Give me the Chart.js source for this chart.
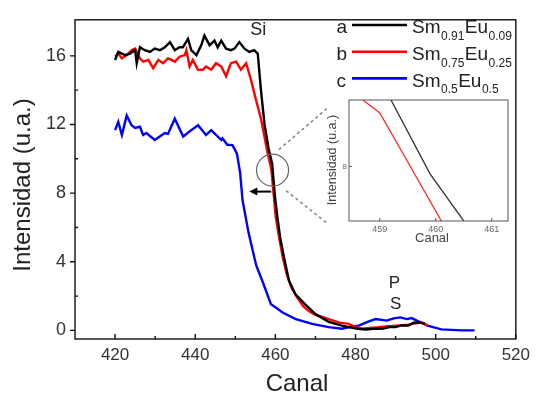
<!DOCTYPE html>
<html>
<head>
<meta charset="utf-8">
<script src="https://cdn.jsdelivr.net/npm/chart.js@4.4.1/dist/chart.umd.min.js"></script>
<style>
  html, body { margin: 0; padding: 0; background: #fff; }
  #wrap { position: relative; width: 536px; height: 396px; }
  #main { position: absolute; left: 0; top: 0; }
  #inset { position: absolute; left: 310px; top: 90px; }
</style>
</head>
<body>
<div id="wrap">
  <canvas id="main" width="536" height="396"></canvas>
  <canvas id="inset" width="210" height="165"></canvas>
</div>
<script>
// a: Sm0.91Eu0.09 (black)
const canalA = [420, 420.8, 422.5, 423.7, 425, 425.4, 426.2, 427.4, 428.7, 429.9, 431.2, 432.4, 433.7, 434.9, 436.1, 436.9, 438.2, 439, 440.3, 441.5, 442.3, 443.6, 444.8, 445.6, 446.5, 447.7, 448.9, 449.8, 451, 452.3, 453.5, 454.7, 455.6, 456.4, 457.3, 458.3, 459.2, 459.9, 460.5, 461.2, 462.2, 463.4, 465, 467.5, 470, 473.3, 476.6, 478.3, 480.5, 482.5, 484.5, 486.6, 488.5, 489.9, 491.5, 493.2, 494.5, 495.7, 497.3];
const intA = [15.76, 16.23, 16.04, 16.13, 16.33, 15.57, 16.5, 16.33, 16.23, 16.42, 16.33, 16.5, 16.8, 16.33, 16.5, 16.5, 16.99, 16.33, 16.04, 16.61, 17.18, 16.61, 16.89, 16.5, 16.89, 16.42, 16.33, 16.42, 16.8, 16.42, 16.23, 16.33, 16.13, 14.0, 12.0, 10.6, 9.7, 7.8, 6.6, 5.4, 4.2, 2.9, 2.1, 1.5, 0.95, 0.5, 0.28, 0.19, 0.1, 0.05, 0.1, 0.1, 0.2, 0.19, 0.3, 0.28, 0.45, 0.47, 0.4];

// b: Sm0.75Eu0.25 (red)
const canalB = [420, 420.8, 421.7, 422.9, 424.1, 425, 426.2, 427, 428.3, 429.5, 430.8, 432, 433.2, 434.1, 434.9, 436.1, 437.4, 437.8, 438.6, 439.4, 440.7, 441.9, 442.7, 444, 445.2, 446.5, 447.7, 448.9, 450.2, 451.4, 452.7, 453.9, 455.1, 456.4, 457.2, 458.0, 458.7, 459, 460.1, 460.8, 461.8, 462.8, 464, 465.5, 467, 468.5, 470, 471.5, 473.3, 476, 478.3, 480, 481.6, 483.5, 485.8, 488, 490, 492, 493.2, 494.5, 496.5, 498];
const intB = [15.95, 16.13, 15.85, 16.04, 16.33, 16.42, 15.85, 15.66, 15.76, 15.28, 15.76, 15.57, 15.85, 15.76, 15.66, 15.95, 16.04, 16.33, 15.38, 15.76, 15.19, 15.19, 15.38, 15.19, 15.57, 15.38, 14.81, 15.57, 15.66, 15.19, 15.57, 14.62, 13.48, 12.34, 11.39, 10.4, 9.7, 9.37, 6.6, 5.6, 4.3, 3.3, 2.5, 1.9, 1.4, 1.1, 0.9, 0.8, 0.66, 0.45, 0.38, 0.2, 0.1, 0.15, 0.19, 0.25, 0.28, 0.3, 0.34, 0.4, 0.47, 0.28];

// c: Sm0.5Eu0.5 (blue)
const canalC = [420, 420.8, 421.7, 422.9, 424.1, 425, 426.2, 427, 427.8, 429.9, 432.4, 433.2, 434.9, 437, 438.6, 440.7, 442.7, 444, 445.6, 446.5, 446.8, 448, 449.3, 450.4, 451.2, 451.8, 453.3, 455.2, 456.8, 458.9, 460.1, 461.8, 465.1, 469.2, 473.3, 476.6, 478.5, 480.8, 483, 485, 487.8, 489.5, 491.2, 492.8, 494, 495.7, 498, 501.4, 506.4, 509.7];
const intC = [11.67, 12.15, 11.39, 12.53, 11.96, 11.8, 11.87, 11.39, 11.5, 11.1, 11.5, 11.45, 12.34, 11.3, 11.6, 11.96, 11.39, 11.67, 11.3, 11.1, 11.2, 10.82, 10.8, 10.3, 9.2, 7.6, 5.7, 3.8, 2.85, 1.52, 1.33, 1.04, 0.66, 0.38, 0.19, 0.1, 0.2, 0.28, 0.5, 0.66, 0.57, 0.7, 0.76, 0.66, 0.72, 0.53, 0.28, 0.06, 0, 0];

const seriesLetters = ['a', 'b', 'c'];
const seriesFormulas = [
  [['Sm', '0.91'], ['Eu', '0.09']],
  [['Sm', '0.75'], ['Eu', '0.25']],
  [['Sm', '0.5'], ['Eu', '0.5']]
];
const seriesColors = ['#000000', '#ff0000', '#0000ff'];

const xTickLabels = [420, 440, 460, 480, 500, 520];
const xMinorTicks = [430, 450, 470, 490, 510];
const yTickLabels = [0, 4, 8, 12, 16];
const yMinorTicks = [2, 6, 10, 14];
const insetXTicks = [459, 460, 461];
const insetYTicks = [8];

const FONT = '"Liberation Sans", Arial, Helvetica, sans-serif';

const toPoints = (xs, ys) => xs.map((x, i) => ({ x: x, y: ys[i] }));
const fixedTicks = list => scale => { scale.ticks = list.map(v => ({ value: v })); };

// frame + tick marks (inside / outside like the original)
const frameTicks = {
  id: 'frameTicks',
  afterDraw(chart, args, o) {
    const { ctx, chartArea: a, scales: { x, y } } = chart;
    ctx.save();
    ctx.strokeStyle = o.color;
    ctx.lineWidth = o.width;
    ctx.strokeRect(a.left, a.top, a.right - a.left, a.bottom - a.top);
    ctx.beginPath();
    o.xMajor.forEach(v => { const p = x.getPixelForValue(v); ctx.moveTo(p, a.bottom); ctx.lineTo(p, a.bottom - o.xMajorLen); });
    o.xMinor.forEach(v => { const p = x.getPixelForValue(v); ctx.moveTo(p, a.bottom); ctx.lineTo(p, a.bottom - o.minorLen); });
    o.yMajor.forEach(v => { const p = y.getPixelForValue(v); ctx.moveTo(a.left, p); ctx.lineTo(a.left + o.yMajorLen, p); });
    o.yMinor.forEach(v => { const p = y.getPixelForValue(v); ctx.moveTo(a.left, p); ctx.lineTo(a.left + o.minorLen, p); });
    ctx.stroke();
    ctx.restore();
  }
};

// axis titles, annotations and the legend with subscripts
const notes = {
  id: 'notes',
  afterDatasetsDraw(chart) {
    const { ctx, scales: { x, y } } = chart;
    const px = v => x.getPixelForValue(v);
    const py = v => y.getPixelForValue(v);
    ctx.save();

    // magnifier circle + dashed guide lines
    ctx.strokeStyle = '#666';
    ctx.lineWidth = 1.2;
    ctx.beginPath();
    ctx.arc(px(459.3), py(9.34), 16, 0, Math.PI * 2);
    ctx.stroke();
    ctx.strokeStyle = '#888';
    ctx.lineWidth = 1.6;
    ctx.setLineDash([3, 3]);
    ctx.beginPath();
    ctx.moveTo(px(460.9), py(10.54)); ctx.lineTo(px(472.85), py(12.93));
    ctx.moveTo(px(462.7), py(8.14)); ctx.lineTo(px(472.85), py(6.26));
    ctx.stroke();
    ctx.setLineDash([]);

    // shift arrow
    const ay = py(8.09), ax0 = px(458.96), ax1 = px(453.5);
    ctx.strokeStyle = '#000';
    ctx.fillStyle = '#000';
    ctx.lineWidth = 2;
    ctx.beginPath();
    ctx.moveTo(ax0, ay); ctx.lineTo(ax1 + 5, ay);
    ctx.stroke();
    ctx.beginPath();
    ctx.moveTo(ax1, ay); ctx.lineTo(ax1 + 8, ay - 4); ctx.lineTo(ax1 + 8, ay + 4);
    ctx.closePath();
    ctx.fill();

    // peak labels
    ctx.fillStyle = '#222';
    ctx.textAlign = 'center';
    ctx.textBaseline = 'middle';
    ctx.font = '18px ' + FONT;
    ctx.fillText('Si', px(455.7), py(17.5));
    ctx.font = '17px ' + FONT;
    ctx.fillText('P', px(489.7), py(2.73));
    ctx.fillText('S', px(490), py(1.54));

    // axis titles
    ctx.font = '24px ' + FONT;
    ctx.fillText('Canal', 297, 384);
    ctx.save();
    ctx.translate(23, 185);
    ctx.rotate(-Math.PI / 2);
    ctx.fillText('Intensidad (u.a.)', 0, 0);
    ctx.restore();

    // legend
    ctx.textAlign = 'left';
    ctx.textBaseline = 'alphabetic';
    seriesLetters.forEach((letter, i) => {
      const base = 33.3 + i * 26.7;
      ctx.fillStyle = '#222';
      ctx.font = '19px ' + FONT;
      ctx.fillText(letter, 336.5, base);
      ctx.strokeStyle = seriesColors[i];
      ctx.lineWidth = 2.6;
      ctx.beginPath();
      ctx.moveTo(352, base - 8.3); ctx.lineTo(407, base - 8.3);
      ctx.stroke();
      let tx = 412;
      seriesFormulas[i].forEach(([el, sub]) => {
        ctx.font = '19px ' + FONT;
        ctx.fillText(el, tx, base);
        tx += ctx.measureText(el).width + 0.5;
        ctx.font = '12px ' + FONT;
        ctx.fillText(sub, tx, base + 6.5);
        tx += ctx.measureText(sub).width + 0.5;
      });
    });
    ctx.restore();
  }
};

new Chart(document.getElementById('main'), {
  type: 'line',
  data: {
    datasets: [
      { label: 'a', data: toPoints(canalA, intA) },
      { label: 'b', data: toPoints(canalB, intB) },
      { label: 'c', data: toPoints(canalC, intC) }
    ].map((d, i) => Object.assign(d, {
      borderColor: seriesColors[i], borderWidth: 2.4, pointRadius: 0, tension: 0, fill: false
    }))
  },
  options: {
    responsive: false,
    animation: false,
    events: [],
    layout: { padding: { left: 0, top: 12, right: 18, bottom: 0 } },
    plugins: {
      legend: { display: false },
      tooltip: { enabled: false },
      frameTicks: {
        color: '#111', width: 1.4,
        xMajor: xTickLabels, xMinor: xMinorTicks, yMajor: yTickLabels, yMinor: yMinorTicks,
        xMajorLen: 5, yMajorLen: -5, minorLen: 3
      }
    },
    scales: {
      x: {
        type: 'linear', min: 410, max: 520,
        afterBuildTicks: fixedTicks(xTickLabels),
        afterFit: s => { s.height = 57; },
        grid: { display: false, drawTicks: false },
        border: { display: false },
        ticks: { font: { family: FONT, size: 17 }, color: '#333', padding: 6, maxRotation: 0, autoSkip: false }
      },
      y: {
        type: 'linear', min: -0.5, max: 18.1,
        afterBuildTicks: fixedTicks(yTickLabels),
        afterFit: s => { s.width = 75; },
        grid: { display: false, drawTicks: false },
        border: { display: false },
        ticks: { font: { family: FONT, size: 18 }, color: '#333', padding: 9, autoSkip: false }
      }
    }
  },
  plugins: [frameTicks, notes]
});

// inset: zoom on the Si edge
const insetDecor = {
  id: 'insetDecor',
  beforeDatasetsDraw(chart) {
    const { ctx, chartArea: a } = chart;
    ctx.save();
    ctx.fillStyle = '#fff';
    ctx.fillRect(a.left, a.top, a.right - a.left, a.bottom - a.top);
    ctx.restore();
  },
  afterDraw(chart) {
    const { ctx } = chart;
    ctx.save();
    ctx.fillStyle = '#444';
    ctx.textAlign = 'center';
    ctx.textBaseline = 'middle';
    ctx.font = '13px ' + FONT;
    ctx.fillText('Canal', 122, 148);
    ctx.font = '12.5px ' + FONT;
    ctx.translate(23, 70);
    ctx.rotate(-Math.PI / 2);
    ctx.fillText('Intensidad (u.a.)', 0, 0);
    ctx.restore();
  }
};

new Chart(document.getElementById('inset'), {
  type: 'line',
  data: {
    datasets: [
      { label: 'a', data: toPoints(canalA, intA), borderColor: '#333', borderWidth: 1.3 },
      { label: 'b', data: toPoints(canalB, intB), borderColor: '#ff2a2a', borderWidth: 1.3 }
    ].map(d => Object.assign(d, { pointRadius: 0, tension: 0, fill: false }))
  },
  options: {
    responsive: false,
    animation: false,
    events: [],
    layout: { padding: { left: 0, top: 10, right: 12, bottom: 0 } },
    plugins: {
      legend: { display: false },
      tooltip: { enabled: false },
      frameTicks: {
        color: '#555', width: 1,
        xMajor: insetXTicks, xMinor: [], yMajor: insetYTicks, yMinor: [],
        xMajorLen: 3, yMajorLen: 3, minorLen: 2
      }
    },
    scales: {
      x: {
        type: 'linear', min: 458.45, max: 461.29,
        afterBuildTicks: fixedTicks(insetXTicks),
        afterFit: s => { s.height = 34; },
        grid: { display: false, drawTicks: false },
        border: { display: false },
        ticks: { font: { family: FONT, size: 9 }, color: '#666', padding: 3, maxRotation: 0, autoSkip: false }
      },
      y: {
        type: 'linear', min: 6.6, max: 9.7,
        afterBuildTicks: fixedTicks(insetYTicks),
        afterFit: s => { s.width = 39; },
        grid: { display: false, drawTicks: false },
        border: { display: false },
        ticks: { font: { family: FONT, size: 8 }, color: '#666', padding: 2, autoSkip: false }
      }
    }
  },
  plugins: [frameTicks, insetDecor]
});
</script>
</body>
</html>
